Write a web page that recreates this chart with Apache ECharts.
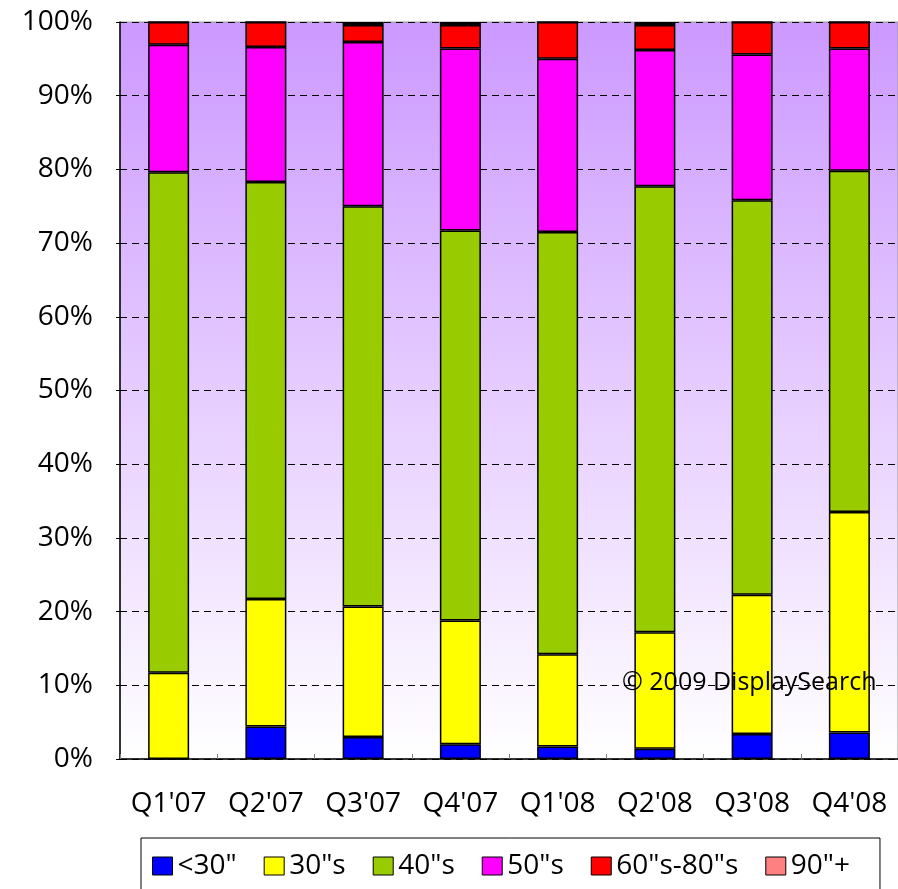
<!DOCTYPE html>
<html>
<head>
<meta charset="utf-8">
<script src="https://cdn.jsdelivr.net/npm/echarts@6/dist/echarts.min.js"></script>
<style>
  html, body { margin: 0; padding: 0; background: #fff; }
  #chart { width: 898px; height: 889px; }
</style>
</head>
<body>
<div id="chart"></div>
<script>
// Quarterly share of shipments by screen-size band (percent of total)
const quarters = ["Q1'07", "Q2'07", "Q3'07", "Q4'07", "Q1'08", "Q2'08", "Q3'08", "Q4'08"];
const under30 = [0, 4.4, 3.0, 2.0, 1.7, 1.4, 3.4, 3.6];
const s30 = [11.7, 17.3, 17.7, 16.8, 12.5, 15.8, 18.9, 29.9];
const s40 = [67.9, 56.6, 54.3, 52.9, 57.3, 60.5, 53.5, 46.3];
const s50 = [17.3, 18.3, 22.3, 24.7, 23.5, 18.5, 19.8, 16.6];
const s60to80 = [3.1, 3.4, 2.3, 3.2, 5.0, 3.4, 4.4, 3.6];
const s90plus = [0, 0, 0.4, 0.4, 0, 0.4, 0, 0];

const seriesNames = ['<30"', '30"s', '40"s', '50"s', '60"s-80"s', '90"+'];
const seriesData = [under30, s30, s40, s50, s60to80, s90plus];
const seriesColors = ['#0000FF', '#FFFF00', '#99CC00', '#FF00FF', '#FF0000', '#FF8080'];

const FONT = 'Open Sans';
const chart = echarts.init(document.getElementById('chart'), null, { renderer: 'canvas' });

chart.setOption({
  backgroundColor: '#FFFFFF',
  animation: false,
  grid: {
    left: 120,
    top: 22,
    width: 788,
    height: 737,
    show: true,
    borderColor: '#9a9a9a',
    borderWidth: 1,
    backgroundColor: new echarts.graphic.LinearGradient(0, 0, 0, 1, [
      { offset: 0, color: '#CC99FF' },
      { offset: 1, color: '#FFFFFF' }
    ])
  },
  legend: {
    left: 141,
    top: 838,
    width: 740,
    orient: 'horizontal',
    padding: [14, 30, 20, 11],
    itemGap: 27,
    itemWidth: 20,
    itemHeight: 18,
    itemTextGap: 8,
    borderColor: '#000',
    borderWidth: 1,
    backgroundColor: '#fff',
    icon: 'rect',
    itemStyle: { borderColor: '#000', borderWidth: 1 },
    textStyle: { fontFamily: FONT, fontSize: 28, color: '#000' },
    data: seriesNames
  },
  xAxis: {
    type: 'category',
    data: quarters,
    boundaryGap: true,
    axisLine: { lineStyle: { color: '#000', width: 1.5 } },
    axisTick: { show: true, inside: true, length: 5, interval: 0, lineStyle: { color: '#808080' } },
    axisLabel: { fontFamily: FONT, fontSize: 28, color: '#000', margin: 31, interval: 0 },
    splitLine: { show: false }
  },
  yAxis: {
    type: 'value',
    min: 0,
    max: 100,
    interval: 10,
    axisLine: { show: true, lineStyle: { color: '#000', width: 1.5 } },
    axisTick: { show: true, length: 4, lineStyle: { color: '#000' } },
    axisLabel: { formatter: '{value}%', fontFamily: FONT, fontSize: 28, color: '#000', margin: 27 },
    splitLine: { show: true, lineStyle: { color: '#000', type: [7, 5], width: 1 } }
  },
  graphic: [{
    type: 'text',
    left: 622,
    top: 670,
    z: 10,
    style: { text: '© 2009 DisplaySearch', fontFamily: FONT, fontSize: 25, fill: '#000' }
  }],
  series: seriesNames.map((name, i) => ({
    name: name,
    type: 'bar',
    stack: 'share',
    barWidth: 41,
    data: seriesData[i],
    itemStyle: { color: seriesColors[i], borderColor: '#000', borderWidth: 1.5 }
  }))
});
</script>
</body>
</html>
